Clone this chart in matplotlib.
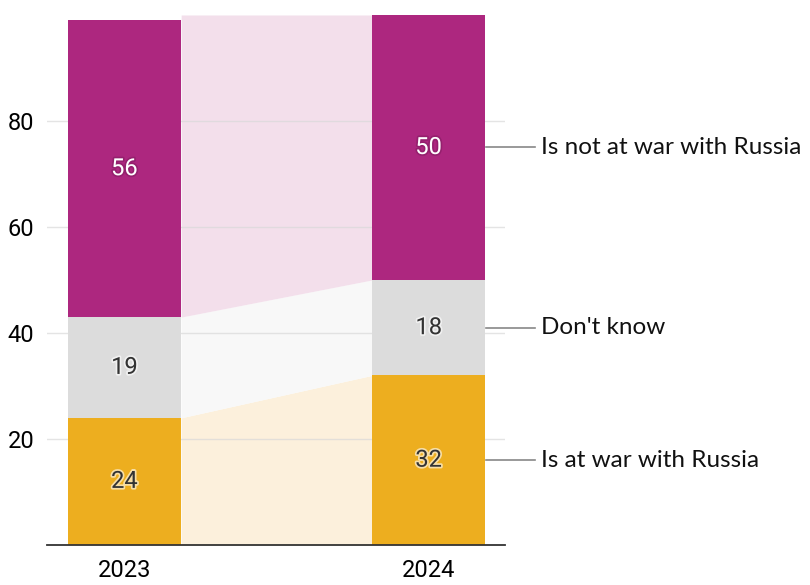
import matplotlib.pyplot as plt
import matplotlib.patheffects as pe

years = ["2023", "2024"]
categories = ["Is at war with Russia", "Don't know", "Is not at war with Russia"]
at_war = [24, 32]
dont_know = [19, 18]
not_at_war = [56, 50]

colors = ["#edae1f", "#dcdcdc", "#ad277f"]
band_colors = ["#fcf0dc", "#f8f8f8", "#f3dfeb"]
text_colors = ["#333333", "#333333", "#ffffff"]

fig = plt.figure(figsize=(8.1, 5.85), dpi=100)
ax = fig.add_axes([0.058, 0.0684, 0.565, 0.906])

xs = [0, 1]
width = 0.373
series = [at_war, dont_know, not_at_war]

# stack bottoms/tops for each year
bottoms = []
run = [0, 0]
for s in series:
    bottoms.append(list(run))
    run = [run[i] + s[i] for i in range(2)]
tops = [[bottoms[k][i] + series[k][i] for i in range(2)] for k in range(3)]
tops[2] = [100, 100]  # top band runs to the top of the frame

# connecting bands between the two bars
x_band = [xs[0] + width / 2, xs[1] - width / 2]
for k in range(3):
    ax.fill_between(x_band, bottoms[k], tops[k], color=band_colors[k],
                    linewidth=0, zorder=1)

for y in [20, 40, 60, 80]:
    ax.axhline(y, color="#d9d9d9", linewidth=1, alpha=0.7, zorder=2)

for k, s in enumerate(series):
    ax.bar(xs, s, width=width, bottom=bottoms[k], color=colors[k],
           linewidth=0, zorder=3)
    for i in range(2):
        y = bottoms[k][i] + s[i] / 2
        if k == 2:
            halo = [pe.withStroke(linewidth=2.5, foreground="#6a1550", alpha=0.35)]
        else:
            halo = [pe.withStroke(linewidth=2.5, foreground="#ffffff", alpha=0.6)]
        ax.text(xs[i], y, str(s[i]), ha="center", va="center", fontsize=17,
                family="Roboto", color=text_colors[k], path_effects=halo,
                zorder=4)

# right-hand category labels with leader lines
for k, name in enumerate(categories):
    y = bottoms[k][1] + series[k][1] / 2
    ax.plot([1.187, 1.351], [y, y], color="#888888", linewidth=1.2,
            clip_on=False, zorder=4)
    ax.text(1.368, y, name, ha="left", va="center", fontsize=17.5,
            family="Lato", color="#111111", clip_on=False)

ax.set_xlim(-0.2545, 1.2496)
ax.set_ylim(0, 100)
ax.set_xticks(xs)
ax.set_xticklabels(years, family="Roboto", fontsize=17)
ax.set_yticks([20, 40, 60, 80])
ax.set_yticklabels(["20", "40", "60", "80"], family="Roboto", fontsize=17)
ax.tick_params(length=0, pad=9)
ax.tick_params(axis="x", pad=10)
for side in ["top", "right", "left"]:
    ax.spines[side].set_visible(False)
ax.spines["bottom"].set_color("#333333")
ax.spines["bottom"].set_linewidth(1.3)
ax.spines["bottom"].set_zorder(5)

fig.savefig("out.png", dpi=100)
